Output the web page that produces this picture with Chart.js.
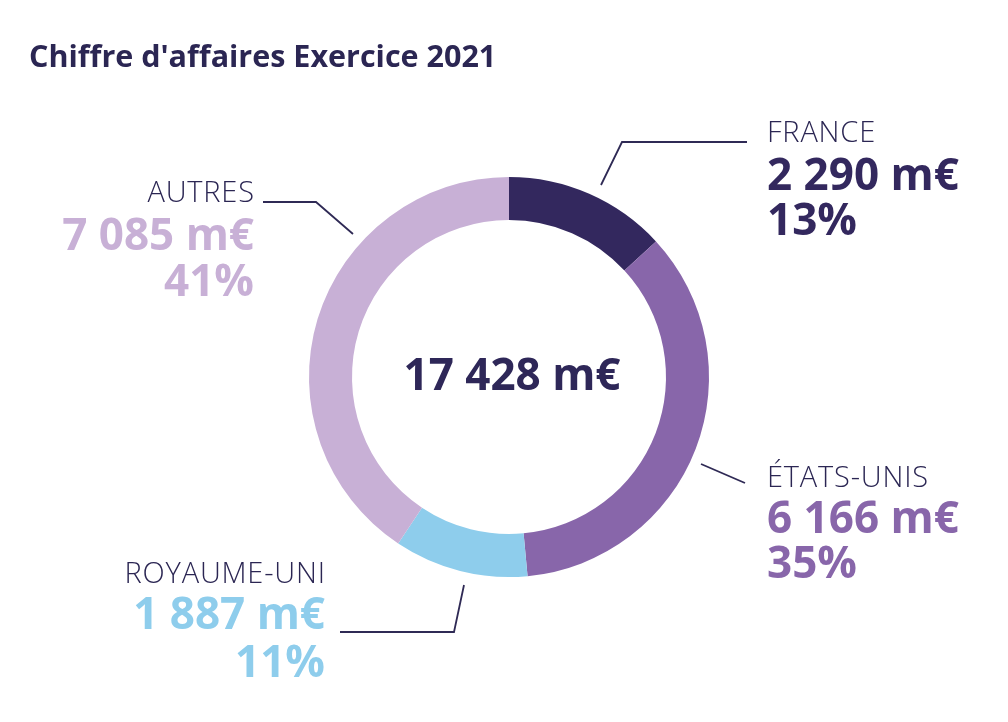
<!DOCTYPE html>
<html>
<head>
<meta charset="utf-8">
<script src="https://cdn.jsdelivr.net/npm/chart.js@4.4.1/dist/chart.umd.min.js"></script>
<style>
  html, body { margin: 0; padding: 0; background: #ffffff; }
  #wrap { width: 1008px; height: 722px; position: relative; }
</style>
</head>
<body>
<div id="wrap"><canvas id="c" width="1008" height="722"></canvas></div>
<script>
const title = "Chiffre d'affaires Exercice 2021";
const categories = ["FRANCE", "ÉTATS-UNIS", "ROYAUME-UNI", "AUTRES"];
const values = [2290, 6166, 1887, 7085];
const unit = "m€";
const colors = ["#33285e", "#8866aa", "#8ecdec", "#c8b0d6"];

const total = values.reduce((a, b) => a + b, 0);
function fmt(n) { return String(n).replace(/\B(?=(\d{3})+(?!\d))/g, " "); }
const pcts = values.map(v => Math.round(v / total * 100) + "%");

const NAVY = "#2b2653";
const FONT = "'Open Sans', 'Noto Sans', sans-serif";

// label layout: anchor offsets relative to doughnut centre
const labelLayout = [
  { align: "left",  dx: 258,  base: [-235, -187, -142], leader: [[92, -192], [113, -235], [238, -235]] },
  { align: "left",  dx: 258,  base: [110, 156, 201],     leader: [[192, 87], [236, 106]] },
  { align: "right", dx: -184, base: [206, 252, 300],     leader: [[-45, 208], [-55, 255], [-169, 255]] },
  { align: "right", dx: -255, base: [-175, -127, -81],   leader: [[-156, -143], [-193, -175], [-246, -175]] }
];

function drawSpaced(ctx, text, x, y, align, spacing) {
  const widths = [...text].map(ch => ctx.measureText(ch).width);
  const total = widths.reduce((a, b) => a + b, 0) + spacing * (text.length - 1);
  let start = align === "right" ? x - total : x;
  const prev = ctx.textAlign;
  ctx.textAlign = "left";
  [...text].forEach((ch, i) => {
    ctx.fillText(ch, start, y);
    start += widths[i] + spacing;
  });
  ctx.textAlign = prev;
}

const overlay = {
  id: "overlay",
  afterDraw(chart) {
    const ctx = chart.ctx;
    const arc = chart.getDatasetMeta(0).data[0];
    const cx = arc.x, cy = arc.y;
    ctx.save();
    // title
    ctx.fillStyle = NAVY;
    ctx.textBaseline = "alphabetic";
    ctx.textAlign = "left";
    ctx.font = "700 30.5px " + FONT;
    ctx.fillText(title, 29, 67);
    // centre total
    ctx.fillStyle = "#2e2758";
    ctx.textAlign = "center";
    ctx.font = "700 44px " + FONT;
    ctx.fillText(fmt(total) + " " + unit, cx + 3, cy + 13);
    // labels
    categories.forEach((cat, i) => {
      const L = labelLayout[i];
      ctx.strokeStyle = "#2f2a55";
      ctx.lineWidth = 1.8;
      ctx.beginPath();
      L.leader.forEach((p, j) => {
        if (j === 0) ctx.moveTo(cx + p[0], cy + p[1]); else ctx.lineTo(cx + p[0], cy + p[1]);
      });
      ctx.stroke();
      ctx.textAlign = L.align;
      const x = cx + L.dx;
      ctx.fillStyle = NAVY;
      ctx.font = "300 29px " + FONT;
      drawSpaced(ctx, cat, x, cy + L.base[0], L.align, 0.8);
      ctx.fillStyle = colors[i];
      ctx.font = "700 44px " + FONT;
      ctx.fillText(fmt(values[i]) + " " + unit, x, cy + L.base[1]);
      ctx.fillText(pcts[i], x, cy + L.base[2]);
    });
    ctx.restore();
  }
};

new Chart(document.getElementById("c"), {
  type: "doughnut",
  data: {
    labels: categories,
    datasets: [{
      data: values,
      backgroundColor: colors,
      borderWidth: 0,
      hoverOffset: 0
    }]
  },
  options: {
    responsive: false,
    animation: false,
    cutout: "78.5%",
    layout: { padding: { top: 177, bottom: 145, left: 309, right: 299 } },
    plugins: { legend: { display: false }, tooltip: { enabled: false }, title: { display: false } }
  },
  plugins: [overlay]
});
</script>
</body>
</html>
